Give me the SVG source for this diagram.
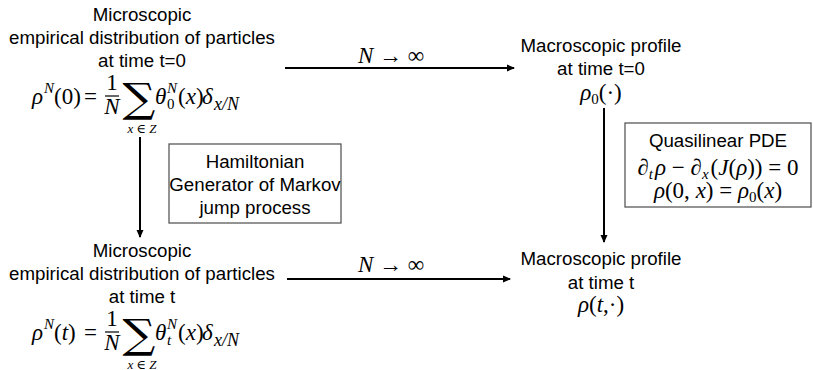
<svg xmlns="http://www.w3.org/2000/svg" width="813" height="370" viewBox="0 0 813 370">
<style>
.t{font-family:"Liberation Sans",Arial,sans-serif;font-size:18.7px;fill:#000;text-anchor:middle}
.m{font-family:"Liberation Serif","DejaVu Serif",serif;font-size:23px;fill:#000}
.i{font-style:italic}
.s{font-size:15px}
.sum{font-family:"DejaVu Serif",serif;font-size:40px}
.box{fill:#fff;stroke:#595959;stroke-width:1.3}
.ar{stroke:#000;stroke-width:2;fill:none;marker-end:url(#ah)}
</style>
<defs>
<marker id="ah" markerWidth="8" markerHeight="8" refX="7" refY="4" orient="auto" markerUnits="userSpaceOnUse">
<path d="M0,0.5 L8,4 L0,7.5 Z" fill="#000"/>
</marker>
</defs>
<rect width="813" height="370" fill="#fff"/>

<g id="connectors">
<line class="ar" x1="285" y1="68" x2="514" y2="68"/>
<line class="ar" x1="287" y1="279" x2="510" y2="279"/>
<line class="ar" x1="140" y1="137" x2="140" y2="237"/>
<line class="ar" x1="604" y1="108" x2="604" y2="242"/>
<text class="m" x="391" y="63" text-anchor="middle"><tspan class="i">N</tspan> → ∞</text>
<text class="m" x="391" y="272" text-anchor="middle"><tspan class="i">N</tspan> → ∞</text>
</g>

<g id="micro0">
<text class="t" x="142" y="21">Microscopic</text>
<text class="t" x="142" y="44">empirical distribution of particles</text>
<text class="t" x="142" y="67">at time t=0</text>
<text class="m i" x="32" y="104">ρ</text>
<text class="m i s" x="44" y="93">N</text>
<text class="m" x="54" y="104">(0)</text>
<text class="m" x="84" y="104">=</text>
<text class="m" x="112" y="90" text-anchor="middle">1</text>
<line x1="105" y1="96" x2="119" y2="96" stroke="#000" stroke-width="1.2"/>
<text class="m i" x="112" y="114" text-anchor="middle">N</text>
<text class="m sum" transform="translate(139,112) scale(1.15,1)" x="0" y="0" text-anchor="middle">∑</text>
<text class="m i" x="142" y="133" text-anchor="middle" style="font-size:13px">x ∈ Z</text>
<text class="m i" x="155" y="104">θ</text>
<text class="m i s" x="167" y="93">N</text>
<text class="m s" x="167" y="109">0</text>
<text class="m" x="178" y="104">(<tspan class="i">x</tspan>)</text>
<text class="m i" x="202" y="104">δ</text>
<text class="m i" x="214" y="110" style="font-size:18px">x/N</text>
</g>

<g id="micro_t">
<text class="t" x="142" y="257">Microscopic</text>
<text class="t" x="142" y="280">empirical distribution of particles</text>
<text class="t" x="142" y="303">at time t</text>
<text class="m i" x="32" y="340">ρ</text>
<text class="m i s" x="44" y="329">N</text>
<text class="m" x="54" y="340">(<tspan class="i">t</tspan>)</text>
<text class="m" x="84" y="340">=</text>
<text class="m" x="112" y="326" text-anchor="middle">1</text>
<line x1="105" y1="332" x2="119" y2="332" stroke="#000" stroke-width="1.2"/>
<text class="m i" x="112" y="350" text-anchor="middle">N</text>
<text class="m sum" transform="translate(139,348) scale(1.15,1)" x="0" y="0" text-anchor="middle">∑</text>
<text class="m i" x="142" y="369" text-anchor="middle" style="font-size:13px">x ∈ Z</text>
<text class="m i" x="155" y="340">θ</text>
<text class="m i s" x="167" y="329">N</text>
<text class="m i s" x="167" y="345">t</text>
<text class="m" x="178" y="340">(<tspan class="i">x</tspan>)</text>
<text class="m i" x="202" y="340">δ</text>
<text class="m i" x="214" y="346" style="font-size:18px">x/N</text>
</g>

<g id="macro0">
<text class="t" x="601" y="52">Macroscopic profile</text>
<text class="t" x="601" y="75">at time t=0</text>
<text class="m" x="601" y="100" text-anchor="middle"><tspan class="i">ρ</tspan><tspan class="s" dy="4">0</tspan><tspan dy="-4">(·)</tspan></text>
</g>

<g id="macro_t">
<text class="t" x="601" y="265">Macroscopic profile</text>
<text class="t" x="601" y="289">at time t</text>
<text class="m" x="601" y="312" text-anchor="middle"><tspan class="i">ρ</tspan>(<tspan class="i">t</tspan>,·)</text>
</g>

<g id="hamiltonian">
<rect class="box" x="169" y="144" width="172" height="79"/>
<text class="t" x="255" y="168">Hamiltonian</text>
<text class="t" x="255" y="191">Generator of Markov</text>
<text class="t" x="255" y="214">jump process</text>
</g>

<g id="pde">
<rect class="box" x="625" y="123" width="186" height="84"/>
<text class="t" x="718" y="147">Quasilinear PDE</text>
<text class="m" x="718" y="175" text-anchor="middle">∂<tspan class="i s" dy="4">t</tspan><tspan class="i" dx="2" dy="-4">ρ</tspan> − ∂<tspan class="i s" dy="4">x</tspan><tspan dx="2" dy="-4">(</tspan><tspan class="i">J</tspan>(<tspan class="i">ρ</tspan>)) = 0</text>
<text class="m" x="718" y="198" text-anchor="middle"><tspan class="i">ρ</tspan>(0, <tspan class="i">x</tspan>) = <tspan class="i">ρ</tspan><tspan class="s" dy="4">0</tspan><tspan dy="-4">(</tspan><tspan class="i">x</tspan>)</text>
</g>
</svg>
